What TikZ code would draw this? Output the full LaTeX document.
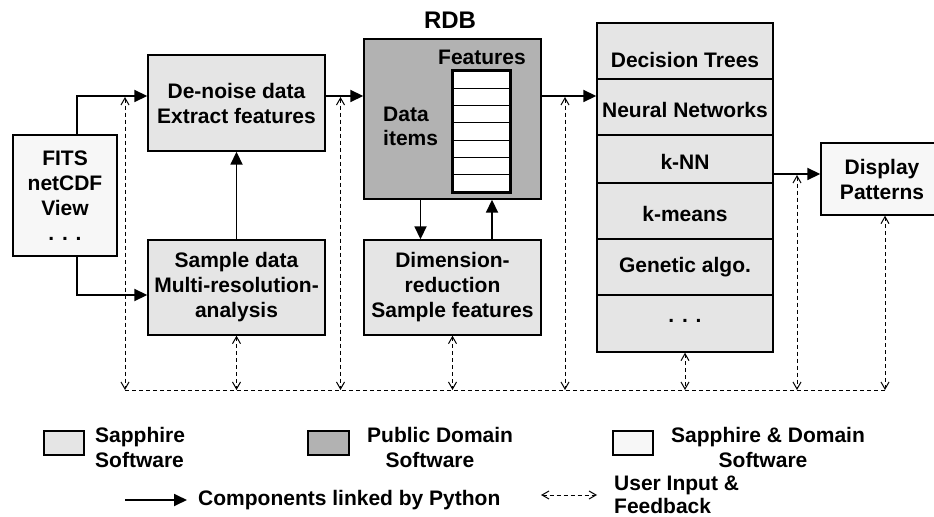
\documentclass[tikz,border=0pt]{standalone}
\usepackage{fontspec}
\setmainfont{Liberation Sans}
\usetikzlibrary{arrows.meta}
\definecolor{sapph}{gray}{0.90}
\definecolor{pubdom}{gray}{0.70}
\definecolor{mixed}{gray}{0.97}

\begin{document}
\begin{tikzpicture}[x=1bp,y=-1bp,
  every node/.style={font=\fontsize{21bp}{25bp}\selectfont\bfseries, inner sep=0pt},
  box/.style={draw, line width=1.4bp, align=center},
  algrow/.style={box, fill=sapph, minimum width=176bp},
  py/.style={line width=1.8bp, -{Triangle[length=13bp,width=12bp]}},
  fb/.style={line width=1bp, dash pattern=on 4bp off 3bp,
    {Straight Barb[length=7bp,width=8bp]}-{Straight Barb[length=7bp,width=8bp]}},
  fbline/.style={line width=1bp, dash pattern=on 4bp off 3bp},
  lbl/.style={anchor=base},
  lblw/.style={anchor=base west}]

\useasboundingbox (0,0) rectangle (934,517);
\clip (0,0) rectangle (934,517);

% processing boxes
\node[box, fill=mixed, minimum width=104bp, minimum height=121bp] (fits) at (65,195.5) {FITS\\netCDF\\View\\. . .};
\node[box, fill=sapph, minimum width=177bp, minimum height=96bp] (denoise) at (236.5,103) {De-noise data\\Extract features};
\node[box, fill=sapph, minimum width=177bp, minimum height=95bp] (sample) at (236.5,287.5) {Sample data\\Multi-resolution-\\analysis};
\node[box, fill=pubdom, minimum width=177bp, minimum height=160bp] (rdb) at (452.5,119) {};
\node[box, fill=sapph, minimum width=177bp, minimum height=95bp] (dim) at (452.5,287.5) {Dimension-\\reduction\\Sample features};
\node[box, fill=mixed, minimum width=122bp, minimum height=72bp] (display) at (882,179) {Display\\Patterns};

% relational database contents
\node[font=\fontsize{24bp}{28bp}\selectfont\bfseries, lbl] (rdbtitle) at (450,29) {RDB};
\node[lbl] (feat) at (482,65) {Features};
\node[lblw] (data1) at (383,122) {Data};
\node[lblw] (data2) at (383,146) {items};
\node[fill=white, minimum width=57bp, minimum height=121bp] (tbl) at (481.5,131.5) {};
\foreach \i in {1,...,6}
  \draw[line width=0.9bp] (453,70.7+\i*17.33) -- (511,70.7+\i*17.33);
\draw[line width=3bp] (tbl.north west) rectangle (tbl.south east);

% algorithm stack
\node[algrow, minimum height=56bp] (r1) at (685,51) {};
\node[algrow, minimum height=56bp] (r2) at (685,107) {};
\node[algrow, minimum height=48bp] (r3) at (685,159) {};
\node[algrow, minimum height=56bp] (r4) at (685,211) {};
\node[algrow, minimum height=56bp] (r5) at (685,267) {};
\node[algrow, minimum height=57bp] (r6) at (685,323.5) {};
\node[lbl] at (685,68) {Decision Trees};
\node[lbl] at (685,118) {Neural Networks};
\node[lbl] at (685,170) {k-NN};
\node[lbl] at (685,222) {k-means};
\node[lbl] at (685,273) {Genetic algo.};
\node[lbl] at (685,323) {. . .};

% link levels
\coordinate (lvl) at (0,96);
\coordinate (lvl2) at (0,174);
\coordinate (fbbase) at (0,390);

% python links
\draw[py] ([xshift=12bp]fits.north) |- (denoise.west |- lvl);
\draw[py] ([xshift=12bp]fits.south) |- ([yshift=-7.5bp]sample.west);
\draw[py] (sample.north) -- (denoise.south);
\draw[py] (denoise.east |- lvl) -- (rdb.west |- lvl);
\draw[py] ([xshift=-32bp]rdb.south) -- ([xshift=-32bp]dim.north);
\draw[py] ([xshift=39.5bp]dim.north) -- ([xshift=39.5bp]rdb.south);
\draw[py] (rdb.east |- lvl) -- (r2.west |- lvl);
\draw[py] (r3.east |- lvl2) -- (display.west |- lvl2);

% user feedback
\coordinate (f1) at (125,97);
\coordinate (f3) at (340.5,97);
\coordinate (f5) at (565,97);
\coordinate (f7) at (797,175);
\draw[fbline] (f1 |- fbbase) -- ([xshift=3bp]display.south |- fbbase);
\draw[fb] (f1) -- (f1 |- fbbase);
\draw[fb] (sample.south) -- (sample.south |- fbbase);
\draw[fb] (f3) -- (f3 |- fbbase);
\draw[fb] (dim.south) -- (dim.south |- fbbase);
\draw[fb] (f5) -- (f5 |- fbbase);
\draw[fb] (r6.south) -- (r6.south |- fbbase);
\draw[fb] (f7) -- (f7 |- fbbase);
\draw[fb] ([xshift=3bp]display.south) -- ([xshift=3bp]display.south |- fbbase);

% legend
\node[box, fill=sapph, minimum width=40bp, minimum height=24bp] (lg1) at (64,443) {};
\node[box, fill=pubdom, minimum width=41bp, minimum height=24bp] (lg2) at (328.5,443) {};
\node[box, fill=mixed, minimum width=40bp, minimum height=24bp] (lg3) at (633,443) {};
\node[lblw] at (95,442) {Sapphire};
\node[lblw] at (95,467) {Software};
\node[lblw] at (367,442) {Public Domain};
\node[lbl] at (430,467) {Software};
\node[lblw] at (671,442) {Sapphire \& Domain};
\node[lbl] at (763,467) {Software};
\coordinate (la1) at (125,500);
\coordinate (la2) at (187,500);
\draw[py] (la1) -- (la2);
\node[lblw] at (198,505) {Components linked by Python};
\coordinate (lb1) at (541,495);
\coordinate (lb2) at (597,495);
\draw[fb] (lb1) -- (lb2);
\node[lblw] at (614,490) {User Input \&};
\node[lblw] at (614,513) {Feedback};
\end{tikzpicture}
\end{document}
